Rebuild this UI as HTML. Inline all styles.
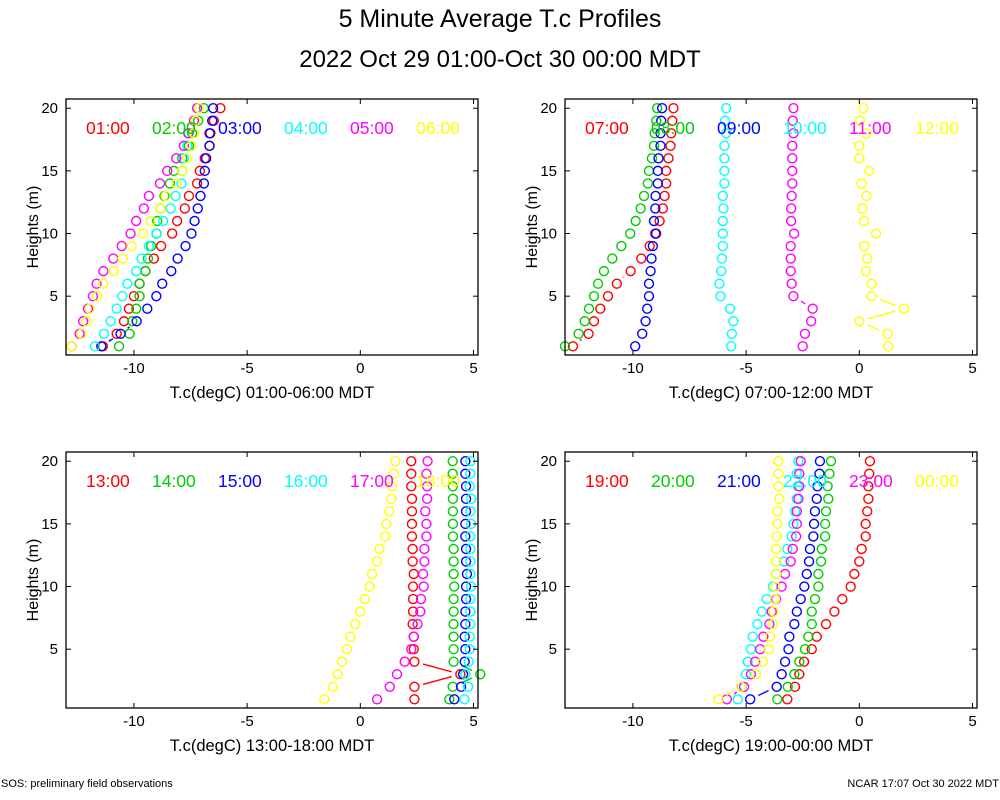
<!DOCTYPE html>
<html><head><meta charset="utf-8">
<style>
html,body{margin:0;padding:0;background:#fff;}
svg{display:block;font-family:"Liberation Sans",sans-serif;}
</style></head>
<body>
<svg id="chart" width="1000" height="800" viewBox="0 0 1000 800" xmlns="http://www.w3.org/2000/svg">
<rect x="0" y="0" width="1000" height="800" fill="#fff"/>
<text x="500" y="27" font-size="25" text-anchor="middle">5 Minute Average T.c Profiles</text>
<text x="500" y="67" font-size="24" text-anchor="middle">2022 Oct 29 01:00-Oct 30 00:00 MDT</text>
<text x="1" y="787" font-size="11">SOS: preliminary field observations</text>
<text x="999" y="787" font-size="11" text-anchor="end">NCAR 17:07 Oct 30 2022 MDT</text>
</svg>
<script>
const heights = [1,2,3,4,5,6,7,8,9,10,11,12,13,14,15,16,17,18,19,20];
const xTicks = [-10,-5,0,5];
const yTicks = [5,10,15,20];
const seriesColors = ["#ff0000","#00cd00","#0000ff","#00ffff","#ff00ff","#ffff00"];

const p1Labels = ["01:00","02:00","03:00","04:00","05:00","06:00"];
const p1Red = [-11.37,-10.76,-10.44,-10.22,-10.0,-9.75,-9.49,-9.12,-8.8,-8.31,-8.09,-7.75,-7.57,-7.21,-7.09,-6.87,-6.66,-6.62,-6.47,-6.18];
const p1Green = [-10.66,-10.19,-10.07,-9.9,-9.75,-9.75,-9.49,-9.38,-9.24,-9.0,-8.97,-8.82,-8.65,-8.41,-8.24,-7.87,-7.57,-7.43,-7.16,-6.91];
const p1Blue = [-11.44,-10.59,-9.88,-9.41,-9.01,-8.75,-8.35,-8.07,-7.72,-7.46,-7.32,-7.18,-7.06,-6.91,-6.87,-6.81,-6.66,-6.66,-6.54,-6.5];
const p1Cyan = [-11.72,-11.32,-11.03,-10.76,-10.51,-10.29,-9.9,-9.66,-9.34,-9.01,-8.71,-8.38,-8.16,-7.9,-7.87,-7.79,-7.65,-7.57,-7.28,-7.21];
const p1Magenta = [-12.75,-12.4,-12.24,-12.03,-11.81,-11.65,-11.35,-10.91,-10.54,-10.15,-9.9,-9.56,-9.34,-8.85,-8.53,-8.13,-7.79,-7.6,-7.35,-7.21];
const p1Yellow = [-12.75,-12.32,-12.09,-11.96,-11.62,-11.35,-10.88,-10.5,-10.1,-9.6,-9.26,-8.82,-8.6,-8.12,-7.87,-7.65,-7.46,-7.35,-7.28,-7.13];

const p2Labels = ["07:00","08:00","09:00","10:00","11:00","12:00"];
const p2Red = [-12.65,-11.96,-11.72,-11.44,-11.1,-10.71,-10.1,-9.63,-9.26,-8.97,-8.82,-8.68,-8.6,-8.53,-8.53,-8.43,-8.34,-8.31,-8.26,-8.21];
const p2Green = [-13.0,-12.4,-12.13,-11.94,-11.72,-11.54,-11.28,-10.91,-10.51,-10.12,-9.88,-9.66,-9.51,-9.34,-9.29,-9.16,-9.07,-9.04,-8.97,-8.93];
const p2Blue = [-9.9,-9.59,-9.44,-9.37,-9.29,-9.29,-9.22,-9.18,-9.12,-9.01,-9.07,-9.01,-9.0,-8.9,-8.9,-8.87,-8.78,-8.78,-8.75,-8.71];
const p2Cyan = [-5.66,-5.63,-5.56,-5.71,-6.13,-6.18,-6.1,-6.07,-6.03,-6.03,-6.03,-6.0,-6.03,-5.96,-5.96,-5.96,-5.96,-5.88,-5.93,-5.88];
const p2Magenta = [-2.5,-2.4,-2.13,-2.06,-2.91,-2.99,-3.03,-3.03,-3.03,-2.88,-3.01,-3.01,-2.99,-2.96,-2.96,-2.96,-2.96,-2.91,-2.94,-2.91];
const p2Yellow = [1.28,1.24,0.0,1.97,0.54,0.54,0.29,0.35,0.22,0.74,0.21,0.13,0.32,0.1,0.44,0.0,0.0,0.32,0.03,0.18];

const p3Labels = ["13:00","14:00","15:00","16:00","17:00","18:00"];
const p3Red = [2.39,2.39,4.42,2.39,2.36,2.36,2.31,2.33,2.33,2.33,2.36,2.31,2.31,2.28,2.28,2.28,2.28,2.25,2.25,2.25];
const p3Green = [3.93,4.08,5.3,4.12,4.12,4.12,4.12,4.12,4.12,4.15,4.12,4.12,4.12,4.09,4.09,4.09,4.09,4.09,4.08,4.08];
const p3Blue = [4.15,4.45,4.54,4.61,4.64,4.61,4.64,4.64,4.67,4.67,4.71,4.67,4.67,4.64,4.64,4.67,4.67,4.67,4.64,4.64];
const p3Cyan = [4.6,4.76,4.64,4.79,4.83,4.83,4.86,4.86,4.86,4.89,4.86,4.86,4.86,4.86,4.89,4.86,4.9,4.83,4.86,4.86];
const p3Magenta = [0.74,1.3,1.62,1.96,2.25,2.36,2.53,2.65,2.68,2.8,2.77,2.83,2.83,2.92,2.92,2.87,2.95,2.95,2.92,2.97];
const p3Yellow = [-1.59,-1.22,-1.0,-0.81,-0.59,-0.44,-0.22,0.0,0.19,0.41,0.52,0.74,0.85,1.1,1.15,1.28,1.37,1.4,1.47,1.55];

const p4Labels = ["19:00","20:00","21:00","22:00","23:00","00:00"];
const p4Red = [-3.18,-2.84,-2.65,-2.44,-2.1,-1.88,-1.47,-1.1,-0.75,-0.38,-0.22,0.0,0.1,0.28,0.28,0.35,0.4,0.4,0.44,0.47];
const p4Green = [-3.62,-3.16,-2.87,-2.65,-2.4,-2.25,-2.1,-2.1,-1.96,-1.81,-1.81,-1.69,-1.66,-1.51,-1.51,-1.47,-1.37,-1.4,-1.32,-1.25];
const p4Blue = [-4.82,-3.65,-3.43,-3.28,-3.13,-3.09,-2.87,-2.76,-2.59,-2.43,-2.32,-2.22,-2.18,-2.03,-2.0,-1.96,-1.88,-1.85,-1.76,-1.74];
const p4Cyan = [-5.37,-5.19,-5.01,-4.93,-4.79,-4.71,-4.5,-4.31,-4.09,-3.82,-3.68,-3.32,-3.18,-2.99,-2.91,-2.84,-2.76,-2.72,-2.76,-2.69];
const p4Magenta = [-5.85,-5.09,-4.79,-4.6,-4.38,-4.24,-3.97,-3.87,-3.68,-3.43,-3.28,-3.03,-2.94,-2.79,-2.76,-2.76,-2.69,-2.65,-2.65,-2.59];
const p4Yellow = [-6.22,-5.22,-4.56,-4.26,-4.01,-3.94,-3.82,-3.79,-3.72,-3.72,-3.68,-3.68,-3.68,-3.65,-3.62,-3.62,-3.54,-3.57,-3.57,-3.57];

const panels = [
  {name:"panel-01-06", ox:0, oy:0, labels:p1Labels, series:[p1Red,p1Green,p1Blue,p1Cyan,p1Magenta,p1Yellow], xlab:"T.c(degC) 01:00-06:00 MDT"},
  {name:"panel-07-12", ox:499, oy:0, labels:p2Labels, series:[p2Red,p2Green,p2Blue,p2Cyan,p2Magenta,p2Yellow], xlab:"T.c(degC) 07:00-12:00 MDT"},
  {name:"panel-13-18", ox:0, oy:353, labels:p3Labels, series:[p3Red,p3Green,p3Blue,p3Cyan,p3Magenta,p3Yellow], xlab:"T.c(degC) 13:00-18:00 MDT"},
  {name:"panel-19-00", ox:499, oy:353, labels:p4Labels, series:[p4Red,p4Green,p4Blue,p4Cyan,p4Magenta,p4Yellow], xlab:"T.c(degC) 19:00-00:00 MDT"}
];

const NS = "http://www.w3.org/2000/svg";
const svg = document.getElementById("chart");
function mk(tag, attrs, parent){
  const e = document.createElementNS(NS, tag);
  for (const k in attrs) e.setAttribute(k, attrs[k]);
  parent.appendChild(e);
  return e;
}
const PX = 22.64, X0 = 66, T0 = -13, PY = 12.53, Y1 = 346.3;
const seriesNames = ["red","green","blue","cyan","magenta","yellow"];

panels.forEach(p => {
  const xs = t => p.ox + X0 + (t - T0) * PX;
  const ys = h => p.oy + Y1 - (h - 1) * PY;
  const g = mk("g", {}, svg);
  
  
  const left = p.ox + 66, right = p.ox + 478, top = p.oy + 99, bottom = p.oy + 355;
  p.series.forEach((vals, si) => {
    const sg = mk("g", {stroke: seriesColors[si], fill: "none", "stroke-width": 1.4}, g);
    
    
    for (let i = 0; i < vals.length - 1; i++) {
      const xa = xs(vals[i]), ya = ys(heights[i]), xb = xs(vals[i+1]), yb = ys(heights[i+1]);
      const dx = xb - xa, dy = yb - ya, L = Math.hypot(dx, dy), gap = 9;
      if (L > 2 * gap + 0.5) {
        const seg = mk("line", {x1: xa + dx*gap/L, y1: ya + dy*gap/L, x2: xb - dx*gap/L, y2: yb - dy*gap/L}, sg);
        
        
      }
    }
    vals.forEach((v, i) => {
      const c = mk("circle", {cx: xs(v), cy: ys(heights[i]), r: 4.5}, sg);
      
      
    });
  });
  p.labels.forEach((lab, si) => {
    const t = mk("text", {x: p.ox + 86 + si * 66, y: p.oy + 134, "font-size": 17.5, fill: seriesColors[si]}, g);
    t.textContent = lab;
    
    
  });
  const fr = mk("rect", {x: left, y: top, width: right - left, height: bottom - top, fill: "none", stroke: "#000", "stroke-width": 1.3}, g);
  
  
  xTicks.forEach(v => {
    const x = xs(v);
    const a = mk("line", {x1: x, y1: bottom, x2: x, y2: bottom - 5, stroke: "#000"}, g);
    
    
    const b = mk("line", {x1: x, y1: top, x2: x, y2: top + 5, stroke: "#000"}, g);
    
    
    const t = mk("text", {x: x, y: bottom + 18, "font-size": 15, "text-anchor": "middle"}, g);
    t.textContent = v;
    
    
  });
  yTicks.forEach(v => {
    const y = ys(v);
    const a = mk("line", {x1: left, y1: y, x2: left + 5, y2: y, stroke: "#000"}, g);
    
    
    const b = mk("line", {x1: right, y1: y, x2: right - 5, y2: y, stroke: "#000"}, g);
    
    
    const t = mk("text", {x: left - 8, y: y + 5, "font-size": 15, "text-anchor": "end"}, g);
    t.textContent = v;
    
    
  });
  const xl = mk("text", {x: p.ox + 272, y: p.oy + 398, "font-size": 16.5, "text-anchor": "middle"}, g);
  xl.textContent = p.xlab;
  
  
  const yl = mk("text", {x: 0, y: 0, "font-size": 16, "text-anchor": "middle", transform: "translate(" + (p.ox + 38) + "," + (p.oy + 227) + ") rotate(-90)"}, g);
  yl.textContent = "Heights (m)";
  
  
});
</script>
</body></html>
